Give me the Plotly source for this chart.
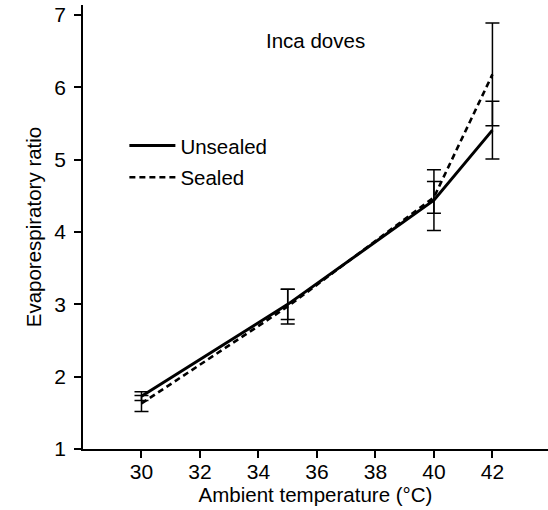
import plotly.graph_objects as go

temps = [30, 35, 40, 42]
unsealed = [1.73, 3.00, 4.44, 5.41]
unsealed_err = [0.06, 0.21, 0.42, 0.40]
sealed = [1.63, 2.97, 4.48, 6.18]
sealed_err = [0.11, 0.24, 0.22, 0.71]
x_ticks = [30, 32, 34, 36, 38, 40, 42]
y_ticks = [1, 2, 3, 4, 5, 6, 7]

FONT = "Liberation Sans, Arial, sans-serif"

fig = go.Figure()
fig.add_trace(go.Scatter(
    x=temps, y=unsealed, mode="lines", name="Unsealed", legendgroup="u",
    line=dict(color="black", width=3),
    error_y=dict(type="data", array=unsealed_err, visible=True,
                 color="black", thickness=1.5, width=7),
))
fig.add_trace(go.Scatter(
    x=temps, y=sealed, mode="lines", name="Sealed", legendgroup="s",
    line=dict(color="black", width=2.6, dash="6px,4px"),
    error_y=dict(type="data", array=sealed_err, visible=True,
                 color="black", thickness=1.5, width=7),
))

fig.add_annotation(x=35.96, y=6.65, text="Inca doves", showarrow=False,
                   font=dict(size=20.5, color="black", family=FONT))

fig.update_layout(
    width=548, height=510,
    margin=dict(l=83, r=0, t=5, b=61, autoexpand=False),
    plot_bgcolor="white", paper_bgcolor="white",
    font=dict(family=FONT, size=20.5, color="black"),
    showlegend=True,
    legend=dict(x=0.089, y=0.728, xanchor="left", yanchor="top",
                bgcolor="rgba(0,0,0,0)", font=dict(size=20.5),
                itemwidth=46, tracegroupgap=2, traceorder="grouped"),
    xaxis=dict(range=[28, 43.9], tickvals=x_ticks, showgrid=False,
               zeroline=False, showline=True, linecolor="black", linewidth=1.5,
               ticks="outside", ticklen=7, tickwidth=1.5, tickcolor="black",
               tickfont=dict(size=21), ticklabelstandoff=-4,
               automargin=False,
               title=dict(text="Ambient temperature (°C)", standoff=6,
                          font=dict(size=20.5))),
    yaxis=dict(range=[1, 7.14], tickvals=y_ticks, showgrid=False,
               zeroline=False, showline=True, linecolor="black", linewidth=1.5,
               ticks="outside", ticklen=7, tickwidth=1.5, tickcolor="black",
               tickfont=dict(size=21), ticklabelstandoff=4,
               automargin=False,
               title=dict(text="Evaporespiratory ratio", standoff=7,
                          font=dict(size=20.5))),
)

fig.write_html("out.html", config={"displayModeBar": False},
               post_script="document.body.style.margin='0';document.body.style.overflow='hidden';")
